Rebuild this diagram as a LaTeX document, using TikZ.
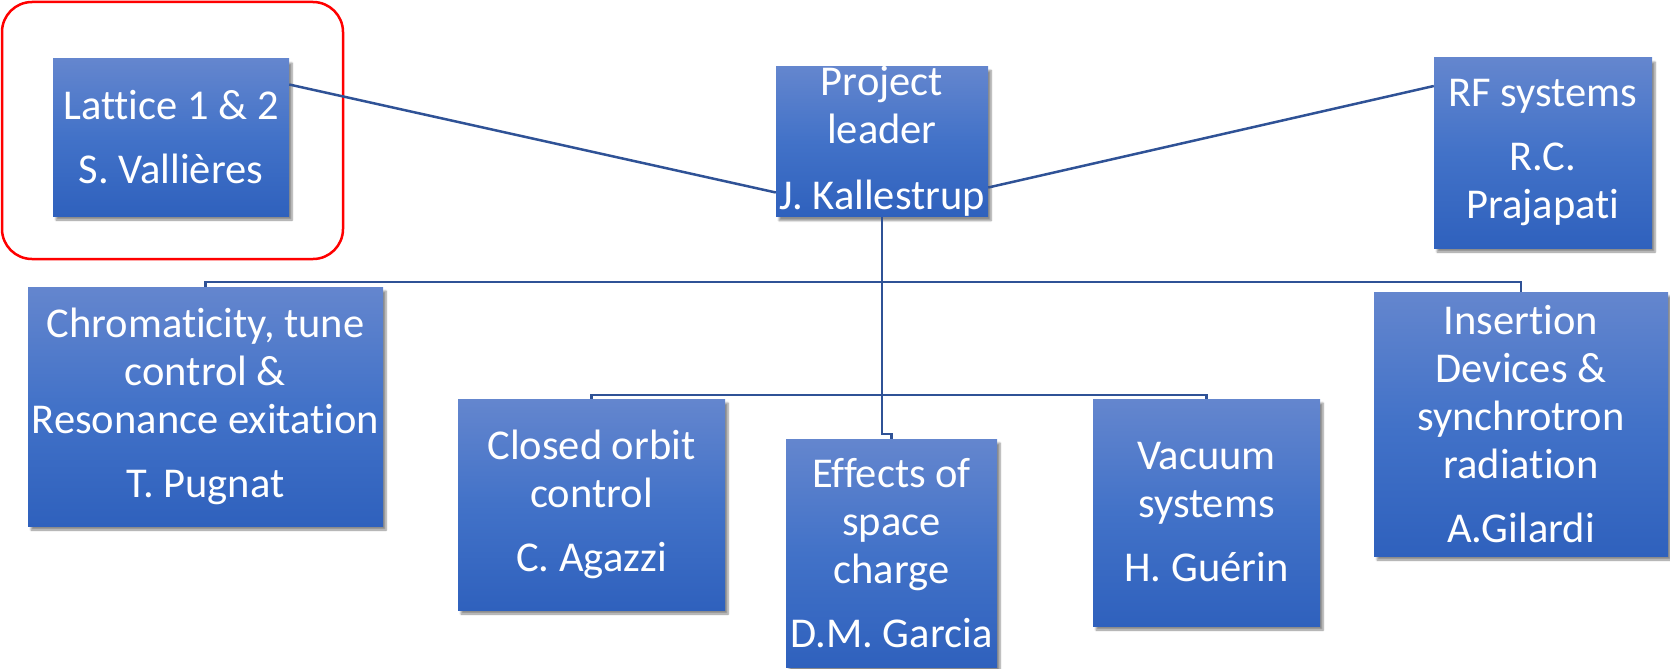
\documentclass[tikz,border=0pt]{standalone}
\usepackage{fontspec}
\setmainfont{Carlito}[Ligatures=NoCommon]
\usetikzlibrary{shadows.blur}
\definecolor{boxtop}{RGB}{100,134,206}
\definecolor{boxmid}{RGB}{66,114,200}
\definecolor{boxbot}{RGB}{47,97,189}
\definecolor{conncol}{RGB}{47,82,150}
\tikzset{
  orgbox/.style={rectangle, inner sep=0pt, align=center, text=white,
    top color=boxtop, bottom color=boxbot, middle color=boxmid,
    font=\fontsize{42.5}{48}\selectfont,
    blur shadow={shadow xshift=3pt, shadow yshift=-4pt, shadow blur steps=6, shadow opacity=45}},
  conn/.style={draw=conncol, line width=2.5pt},
}
\begin{document}
\begin{tikzpicture}[x=1pt,y=-1pt]
\useasboundingbox (0,0) rectangle (1670,669);
% focus frame
\node[draw=red, line width=2.5pt, rounded corners=30pt, minimum width=341pt, minimum height=257pt, inner sep=0pt] (focus) at (172.5,130.5) {};
% boxes
\node[orgbox, minimum width=236pt, minimum height=157pt] (lat) at (171,137.5) {Lattice 1 \& 2\\[16pt]S. Vallières};
\node[orgbox, minimum width=212pt, minimum height=149pt] (pl) at (882,141.5) {Project\\leader\\[18pt]J. Kallestrup};
\node[orgbox, minimum width=218pt, minimum height=190pt] (rf) at (1543,153) {RF systems\\[16pt]R.C.\\Prajapati};
\node[orgbox, minimum width=355pt, minimum height=239pt] (chr) at (205.5,406.5) {Chromaticity, tune\\control \&\\Resonance exitation\\[16pt]T. Pugnat};
\node[orgbox, minimum width=267pt, minimum height=211pt] (co) at (591.5,504.5) {Closed orbit\\control\\[16pt]C. Agazzi};
\node[orgbox, minimum width=211pt, minimum height=228pt] (eff) at (891.5,553) {Effects of\\space\\charge\\[16pt]D.M. Garcia};
\node[orgbox, minimum width=227pt, minimum height=227pt] (vac) at (1206.5,512.5) {Vacuum\\systems\\[16pt]H. Guérin};
\node[orgbox, minimum width=294pt, minimum height=264pt] (ins) at (1521,424) {Insertion\\Devices \&\\synchrotron\\radiation\\[16pt]A.Gilardi};
% connectors
\coordinate (h1) at (882,282);
\coordinate (h2) at (882,395);
\coordinate (jog) at (882,434);
\draw[conn] ([yshift=53pt]lat.east) -- ([yshift=-51pt]pl.west);
\draw[conn] ([yshift=67pt]rf.west) -- ([yshift=-46pt]pl.east);
\draw[conn] (pl.south) -- (jog) -| (eff.north);
\draw[conn] (chr.north) |- (h1) -| (ins.north);
\draw[conn] (co.north) |- (h2) -| (vac.north);
\end{tikzpicture}
\end{document}
